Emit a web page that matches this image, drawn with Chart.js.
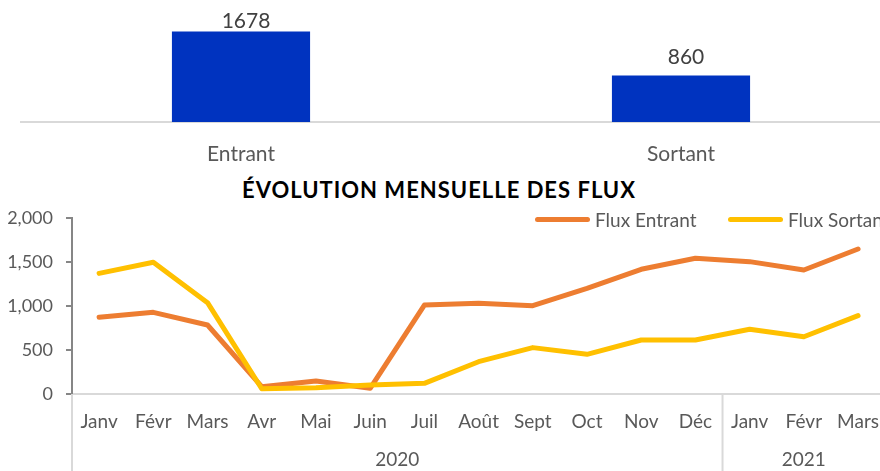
<!DOCTYPE html>
<html lang="fr">
<head>
<meta charset="utf-8">
<title>Évolution mensuelle des flux</title>
<script src="https://cdn.jsdelivr.net/npm/chart.js@4.4.1/dist/chart.umd.min.js"></script>
<style>
  html, body { margin: 0; padding: 0; background: #fff; width: 880px; height: 471px; overflow: hidden; }
  #stage { position: relative; width: 880px; height: 471px; overflow: hidden; font-family: Lato, sans-serif; }
  #totalChart { position: absolute; left: 0; top: 0; }
  #monthChart { position: absolute; left: 0; top: 170px; }
  #title {
    position: absolute; left: 0; top: 179px; width: 878px;
    text-align: center; font: bold 22px/22px Lato, sans-serif; letter-spacing: 1px; color: #000;
  }
  .legend-item {
    position: absolute; top: 210px; display: flex; align-items: center;
    font: 19px/19px Lato, sans-serif; color: #595959; white-space: nowrap;
  }
  .legend-item .swatch { width: 55px; height: 5px; border-radius: 3px; margin-right: 5px; }
</style>
</head>
<body>
<div id="stage">
  <canvas id="totalChart" width="910" height="172"></canvas>
  <div id="title">ÉVOLUTION MENSUELLE DES FLUX</div>
  <canvas id="monthChart" width="895" height="301"></canvas>
  <div class="legend-item" style="left:535px"><span class="swatch" style="background:#ed7d31"></span>Flux Entrant</div>
  <div class="legend-item" style="left:728px"><span class="swatch" style="background:#ffc000"></span>Flux Sortant</div>
</div>
<script>
// totaux
const totalLabels = ['Entrant', 'Sortant'];
const totalValues = [1678, 860];

// flux mensuels
const months = ['Janv', 'Févr', 'Mars', 'Avr', 'Mai', 'Juin', 'Juil', 'Août', 'Sept', 'Oct', 'Nov', 'Déc', 'Janv', 'Févr', 'Mars'];
const yearLabels = ['2020', '2021'];
const monthsPerYear = [12, 3];
const fluxEntrant = [871, 928, 784, 83, 148, 65, 1011, 1030, 1003, 1201, 1417, 1542, 1504, 1409, 1648];
const fluxSortant = [1371, 1497, 1038, 60, 72, 102, 121, 367, 527, 451, 614, 614, 735, 651, 890];

const FONT = 'Lato, sans-serif';
const GREY_TEXT = '#595959';

const barValueLabels = {
  id: 'barValueLabels',
  afterDatasetsDraw(chart) {
    const { ctx, chartArea } = chart;
    const meta = chart.getDatasetMeta(0);
    ctx.save();
    ctx.font = '21px ' + FONT;
    ctx.fillStyle = '#404040';
    ctx.textAlign = 'center';
    ctx.textBaseline = 'alphabetic';
    meta.data.forEach((bar, i) => {
      const y = Math.max(bar.y - 12, chartArea.top + 14);
      ctx.fillText(String(totalValues[i]), bar.x + 5, y);
    });
    ctx.restore();
  }
};

new Chart(document.getElementById('totalChart'), {
  type: 'bar',
  data: {
    labels: totalLabels,
    datasets: [{
      data: totalValues,
      backgroundColor: '#0033bf',
      barPercentage: 1,
      categoryPercentage: 0.314
    }]
  },
  options: {
    responsive: false,
    animation: false,
    layout: { padding: { left: 21, right: 9, top: 14, bottom: 0 } },
    plugins: { legend: { display: false }, tooltip: { enabled: false } },
    scales: {
      x: {
        grid: { display: false, drawTicks: false },
        border: { display: true, color: '#d9d9d9', width: 2 },
        ticks: { color: GREY_TEXT, font: { family: FONT, size: 21 }, padding: 20 },
        afterFit: (s) => { s.height = 50; }
      },
      y: { display: false, min: 0, max: 2000 }
    }
  },
  plugins: [barValueLabels]
});

// années sous les mois + séparateurs
const yearGroups = {
  id: 'yearGroups',
  afterDraw(chart) {
    const { ctx } = chart;
    const x = chart.scales.x;
    const step = x.getPixelForValue(1) - x.getPixelForValue(0);
    ctx.save();
    ctx.strokeStyle = '#d9d9d9';
    ctx.lineWidth = 2;
    ctx.font = '19px ' + FONT;
    ctx.fillStyle = GREY_TEXT;
    ctx.textAlign = 'center';
    ctx.textBaseline = 'middle';
    let start = 0;
    yearLabels.forEach((label, g) => {
      const left = x.getPixelForValue(start) - step / 2;
      const right = Math.min(x.getPixelForValue(start + monthsPerYear[g] - 1) + step / 2, x.right);
      ctx.beginPath();
      ctx.moveTo(left, x.top);
      ctx.lineTo(left, chart.height);
      ctx.stroke();
      ctx.fillText(label, (left + right) / 2, x.top + 66);
      start += monthsPerYear[g];
    });
    ctx.restore();
  }
};

new Chart(document.getElementById('monthChart'), {
  type: 'line',
  data: {
    labels: months,
    datasets: [
      { label: 'Flux Entrant', data: fluxEntrant, borderColor: '#ed7d31', order: 2 },
      { label: 'Flux Sortant', data: fluxSortant, borderColor: '#ffc000', order: 1 }
    ]
  },
  options: {
    responsive: false,
    animation: false,
    layout: { padding: { left: 0, right: 0, top: 48, bottom: 0 } },
    elements: {
      line: { borderWidth: 5, tension: 0, borderCapStyle: 'round', borderJoinStyle: 'round', fill: false },
      point: { radius: 0 }
    },
    plugins: { legend: { display: false }, tooltip: { enabled: false } },
    scales: {
      x: {
        offset: true,
        grid: { display: false, drawTicks: false },
        border: { display: true, color: '#d9d9d9', width: 2 },
        ticks: { color: GREY_TEXT, font: { family: FONT, size: 19 }, padding: 16, maxRotation: 0, autoSkip: false },
        afterFit: (s) => { s.height = 77; }
      },
      y: {
        min: 0,
        max: 2000,
        grid: { drawOnChartArea: false, drawTicks: true, tickLength: 6, color: '#868686', lineWidth: 2 },
        border: { display: true, color: '#868686', width: 2 },
        ticks: {
          stepSize: 500,
          color: GREY_TEXT,
          font: { family: FONT, size: 18 },
          padding: 13,
          callback: (v) => v.toLocaleString('en-US')
        },
        afterFit: (s) => { s.width = 72; }
      }
    }
  },
  plugins: [yearGroups]
});
</script>
</body>
</html>
